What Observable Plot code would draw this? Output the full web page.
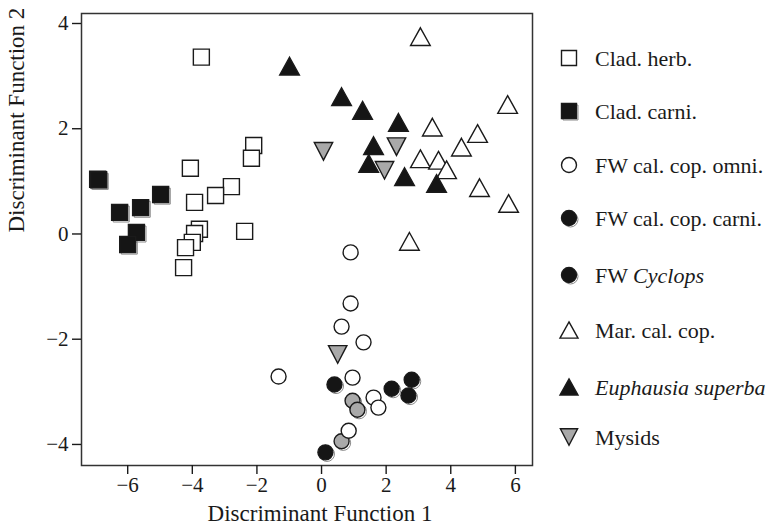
<!DOCTYPE html>
<html><head><meta charset="utf-8">
<script src="https://cdn.jsdelivr.net/npm/d3@7"></script>
<script src="https://cdn.jsdelivr.net/npm/@observablehq/plot@0.6"></script>
<style>
body{margin:0;background:#fff;}
#wrap{position:relative;width:776px;height:528px;font-family:"Liberation Serif","DejaVu Serif",serif;}
#legend{position:absolute;left:0;top:0;}
</style>
</head><body><div id="wrap"></div>
<script>
// ---- data ----
const groupNames = ["Clad. herb.", "Clad. carni.", "FW cal. cop. omni.", "FW cal. cop. carni.", "FW Cyclops", "Mar. cal. cop.", "Euphausia superba", "Mysids"];
const xTicks = [-6, -4, -2, 0, 2, 4, 6];
const yTicks = [-4, -2, 0, 2, 4];
const cladHerbX = [-3.72, -2.10, -2.17, -4.06, -2.79, -3.28, -3.93, -2.38, -3.78, -3.93, -4.00, -4.21, -4.27];
const cladHerbY = [3.36, 1.68, 1.44, 1.25, 0.90, 0.73, 0.60, 0.05, 0.09, 0.01, -0.16, -0.26, -0.64];
const cladCarniX = [-6.93, -6.90, -4.98, -5.60, -6.25, -5.73, -6.00];
const cladCarniY = [1.04, 1.03, 0.75, 0.50, 0.41, 0.03, -0.20];
const omniX = [0.90, 0.90, 0.62, 1.30, 0.96, 1.61, 1.76, 0.84, -1.33];
const omniY = [-0.35, -1.32, -1.76, -2.06, -2.73, -3.11, -3.30, -3.74, -2.71];
const carniX = [0.40, 2.17, 2.79, 2.69, 0.12];
const carniY = [-2.86, -2.94, -2.77, -3.07, -4.15];
const cyclopsX = [0.96, 1.11, 0.62];
const cyclopsY = [-3.17, -3.34, -3.94];
const marX = [3.06, 5.76, 3.43, 4.83, 4.33, 3.06, 3.62, 3.87, 4.89, 5.79, 2.72];
const marY = [3.75, 2.46, 2.03, 1.91, 1.65, 1.43, 1.40, 1.22, 0.88, 0.58, -0.14];
const euphX = [-0.99, 0.62, 1.27, 2.38, 1.61, 1.46, 2.57, 3.56];
const euphY = [3.19, 2.61, 2.35, 2.12, 1.68, 1.34, 1.09, 0.96];
const mysX = [0.06, 2.32, 1.95, 0.50];
const mysY = [1.57, 1.66, 1.21, -2.29];

// ---- symbols ----
function mk(fn){return {draw(c, size){const r = Math.sqrt(size/Math.PI); fn(c, r);}};}
const sqSym = mk((c,r)=>{c.moveTo(-r,-r);c.lineTo(r,-r);c.lineTo(r,r);c.lineTo(-r,r);c.closePath();});
const circSym = mk((c,r)=>{c.moveTo(r,0);c.arc(0,0,r,0,2*Math.PI);c.closePath();});
const triUp = mk((c,r)=>{const w=r*1.2,h=r*1.08;c.moveTo(0,-h);c.lineTo(w,h);c.lineTo(-w,h);c.closePath();});
const triDown = mk((c,r)=>{const w=r*1.15,h=r*1.1;c.moveTo(-w,-h);c.lineTo(w,-h);c.lineTo(0,h);c.closePath();});

const rows = (xs, ys) => xs.map((x,i)=>({x, y: ys[i]}));
const styles = [
  {name: groupNames[0], data: rows(cladHerbX, cladHerbY), symbol: sqSym, fill: "white", r: 8, shadow: false},
  {name: groupNames[1], data: rows(cladCarniX, cladCarniY), symbol: sqSym, fill: "#151515", r: 8, shadow: true},
  {name: groupNames[4], data: rows(cyclopsX, cyclopsY), symbol: circSym, fill: "#a9a9a9", r: 7.5, shadow: true},
  {name: groupNames[3], data: rows(carniX, carniY), symbol: circSym, fill: "#151515", r: 7.5, shadow: true},
  {name: groupNames[2], data: rows(omniX, omniY), symbol: circSym, fill: "white", r: 7.5, shadow: false},
  {name: groupNames[5], data: rows(marX, marY), symbol: triUp, fill: "white", r: 8.2, shadow: false},
  {name: groupNames[6], data: rows(euphX, euphY), symbol: triUp, fill: "#151515", r: 8.2, shadow: false},
  {name: groupNames[7], data: rows(mysX, mysY), symbol: triDown, fill: "#a9a9a9", r: 8, shadow: false}
];

const marks = [];
for (const s of styles) {
  if (s.shadow) marks.push(Plot.dot(s.data, {x:"x", y:"y", symbol: s.symbol, r: s.r, fill: "none", stroke: "#8a8a8a", strokeWidth: 1, dx: 1.6, dy: 1.6}));
  marks.push(Plot.dot(s.data, {x:"x", y:"y", symbol: s.symbol, r: s.r, fill: s.fill, stroke: "#1a1a1a", strokeWidth: 1.4}));
}

const chart = Plot.plot({
  width: 776, height: 528,
  marginLeft: 81, marginRight: 244, marginTop: 13, marginBottom: 63,
  style: {fontFamily: '"Liberation Serif","DejaVu Serif",serif', fontSize: "21px", color: "#1a1a1a", background: "white"},
  x: {domain: [-7.43, 6.53]},
  y: {domain: [-4.40, 4.19]},
  marks: [
    Plot.frame({stroke: "#333", strokeWidth: 1.5}),
    Plot.axisX({ticks: xTicks, tickSize: 9, tickPadding: 3, label: null, strokeWidth: 1.4, fontSize: 21}),
    Plot.axisY({ticks: yTicks, tickSize: 9, tickPadding: 4, label: null, strokeWidth: 1.4, fontSize: 21}),
    Plot.text(["Discriminant Function 1"], {frameAnchor: "bottom", dy: 55, dx: 13, fontSize: 23, fill: "#1a1a1a"}),
    Plot.text(["Discriminant Function 2"], {frameAnchor: "left", dx: -65, dy: -7, rotate: -90, fontSize: 23, fill: "#1a1a1a"}),
    ...marks
  ]
});
const wrap = document.getElementById("wrap");
wrap.appendChild(chart);

// ---- legend ----
const legendY = [58, 111, 165, 218, 275, 330, 387, 437];
const legendSpec = [
  {sym: sqSym, fill: "white", shadow: false, parts: [["Clad. herb.", false]]},
  {sym: sqSym, fill: "#151515", shadow: true, parts: [["Clad. carni.", false]]},
  {sym: circSym, fill: "white", shadow: false, parts: [["FW cal. cop. omni.", false]]},
  {sym: circSym, fill: "#151515", shadow: true, parts: [["FW cal. cop. carni.", false]]},
  {sym: circSym, fill: "#151515", shadow: true, parts: [["FW ", false], ["Cyclops", true]]},
  {sym: triUp, fill: "white", shadow: false, parts: [["Mar. cal. cop.", false]]},
  {sym: triUp, fill: "#151515", shadow: false, parts: [["Euphausia superba", true]]},
  {sym: triDown, fill: "#a9a9a9", shadow: false, parts: [["Mysids", false]]}
];
const lg = d3.select(wrap).append("svg").attr("id","legend").attr("width",776).attr("height",528)
  .style("font-family",'"Liberation Serif","DejaVu Serif",serif').style("font-size","22px");
legendSpec.forEach((d,i)=>{
  const g = lg.append("g").attr("transform",`translate(569,${legendY[i]})`);
  const r = 7.5;
  const p = d3.path(); d.sym.draw(p, r*r*Math.PI);
  if (d.shadow) g.append("path").attr("d", p.toString()).attr("transform","translate(1.5,1.5)").attr("fill","none").attr("stroke","#8a8a8a");
  g.append("path").attr("d", p.toString()).attr("fill", d.fill).attr("stroke","#1a1a1a").attr("stroke-width",1.4);
  const t = g.append("text").attr("x", 26).attr("dy","0.35em").attr("fill","#1a1a1a");
  d.parts.forEach(([txt, it])=>t.append("tspan").text(txt).attr("font-style", it ? "italic" : null));
});
</script>
</body></html>
